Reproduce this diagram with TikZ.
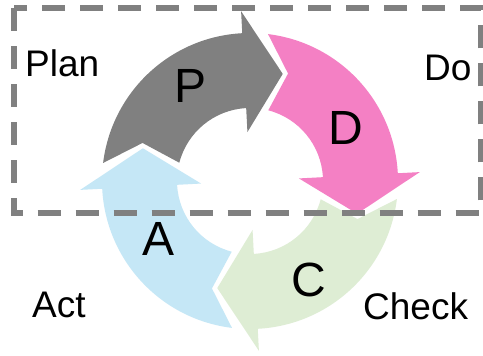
\documentclass[tikz,border=0pt]{standalone}
\usepackage{fontspec}
\setmainfont{Liberation Sans}
\definecolor{planGray}{RGB}{128,128,128}
\definecolor{doPink}{RGB}{244,128,196}
\definecolor{checkGreen}{RGB}{222,237,212}
\definecolor{actBlue}{RGB}{197,231,246}
\definecolor{frameGray}{RGB}{128,128,128}
% One curved arrow of the cycle; #1 = angle where its head sits, #2 = fill colour.
% The tail notch (near #1+90) leaves a narrow gap to the previous arrow's head.
\newcommand\cyclearrow[2]{%
  \fill[#2] ({#1+83}:148) arc[start angle={#1+83}, end angle={#1+3}, radius=148]
    -- ({#1+3}:170) -- ({#1-17}:112) -- ({#1+3}:49) -- ({#1+3}:73)
    arc[start angle={#1+3}, end angle={#1+75.5}, radius=73]
    -- ({#1+70.5}:114) -- cycle;
}
\begin{document}
\begin{tikzpicture}[x=1pt,y=1pt,
  letterlabel/.style={font=\fontsize{48}{52}\selectfont, inner sep=0},
  phaselabel/.style={font=\fontsize{37}{42}\selectfont, inner sep=0, anchor=base west},
  framebox/.style={draw=frameGray, line width=6, dash pattern=on 23 off 15, line join=miter}]
\useasboundingbox (0,0) rectangle (483,356);
\fill[white] (0,0) rectangle (483,356);

% the four arrows of the cycle
\begin{scope}[shift={(250,175)}]
  \cyclearrow{90}{planGray}
  \cyclearrow{0}{doPink}
  \cyclearrow{-90}{checkGreen}
  \cyclearrow{180}{actBlue}
\end{scope}

% letters on the arrows
\node[letterlabel] (p) at (191,270.5) {P};
\node[letterlabel] (d) at (346,228.5) {D};
\node[letterlabel] (c) at (309,76.5) {C};
\node[letterlabel] (a) at (159,117) {A};

% dashed frame round the planning half
\draw[framebox] (14,347.5) rectangle (481,143);

% phase names
\node[phaselabel] (plan) at (25,279) {Plan};
\node[phaselabel] (do) at (424,275) {Do};
\node[phaselabel] (act) at (32,38) {Act};
\node[phaselabel] (check) at (363,36) {Check};
\end{tikzpicture}
\end{document}
